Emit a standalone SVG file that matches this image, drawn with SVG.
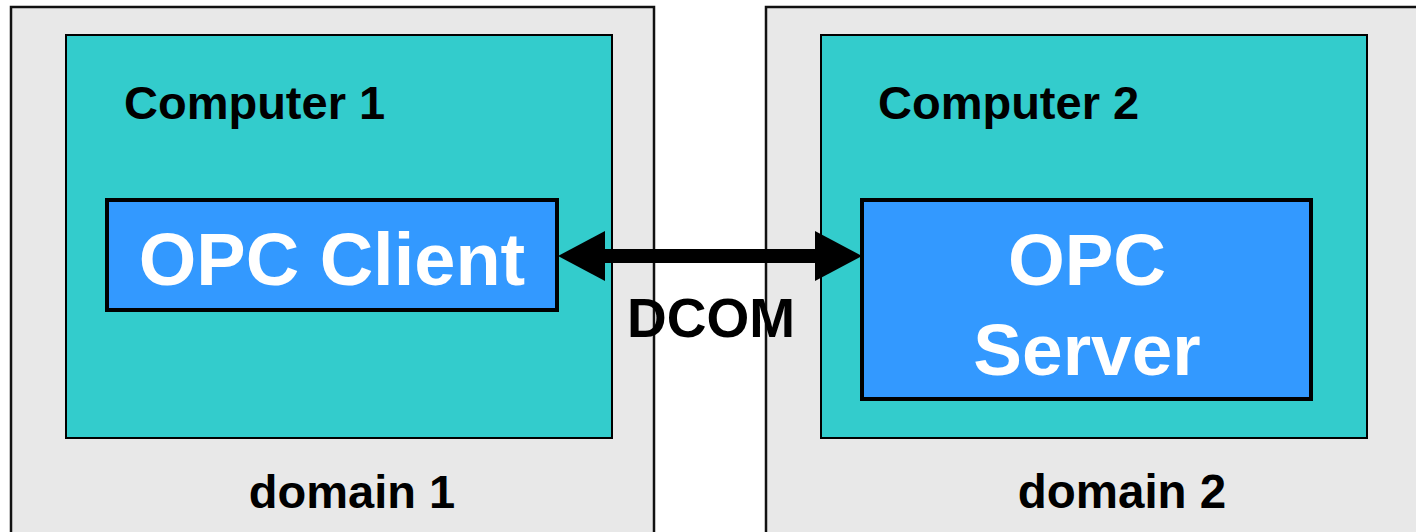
<svg xmlns="http://www.w3.org/2000/svg" width="1416" height="532" viewBox="0 0 1416 532">
<style>
.domain{fill:#E8E8E8;stroke:#111;stroke-width:2.5}
.comp{fill:#33CCCC;stroke:#000;stroke-width:2}
.opc{fill:#3399FF;stroke:#000;stroke-width:4}
text{font-family:"Liberation Sans",Arial,sans-serif;font-weight:bold}
.lbl{fill:#000}
.w{fill:#fff;text-anchor:middle}
</style>
<rect width="1416" height="532" fill="#fff"/>
<g id="domain1"><rect class="domain" x="11" y="7" width="643" height="540"/><text class="lbl" x="352" y="508" font-size="47" text-anchor="middle">domain 1</text></g>
<g id="domain2"><rect class="domain" x="766" y="7" width="670" height="540"/><text class="lbl" x="1122" y="508" font-size="47.5" text-anchor="middle">domain 2</text></g>
<g id="computer1"><rect class="comp" x="66" y="35" width="546" height="403"/><text class="lbl" x="124" y="119" font-size="47">Computer 1</text></g>
<g id="computer2"><rect class="comp" x="821" y="35" width="546" height="403"/><text class="lbl" x="878" y="119" font-size="47">Computer 2</text></g>
<g id="opcclient"><rect class="opc" x="107" y="200" width="450" height="110"/><text class="w" x="332" y="285" font-size="74">OPC Client</text></g>
<g id="opcserver"><rect class="opc" x="862" y="200" width="449" height="199"/><text class="w" x="1087" y="285" font-size="73">OPC</text><text class="w" x="1087" y="375" font-size="73">Server</text></g>
<g id="connectors">
<rect x="604" y="249" width="212" height="14" fill="#000"/>
<polygon points="558,256 605,231 605,281" fill="#000"/>
<polygon points="862,256 815,231 815,281" fill="#000"/>
<text class="lbl" x="711" y="337" font-size="55" text-anchor="middle">DCOM</text>
</g>
</svg>
